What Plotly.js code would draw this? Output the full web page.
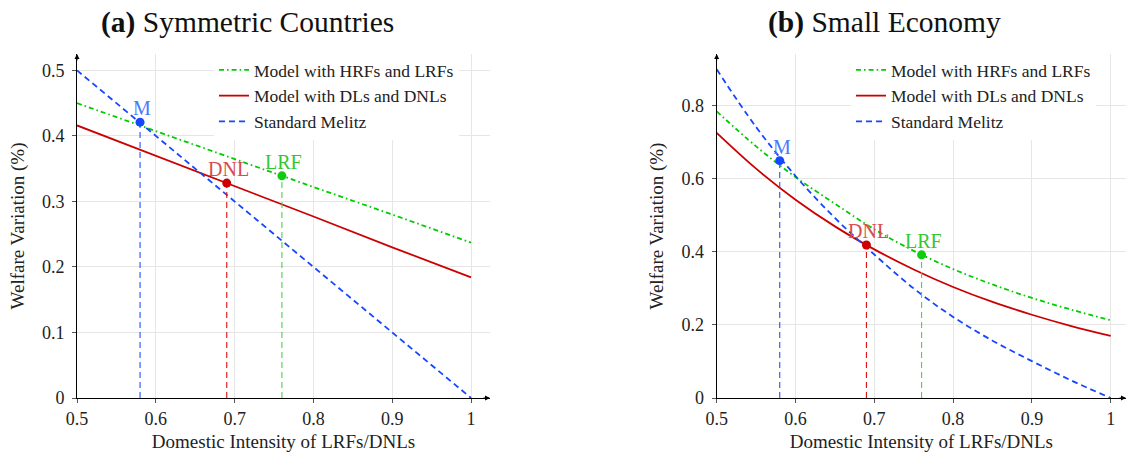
<!DOCTYPE html>
<html>
<head>
<meta charset="utf-8">
<script src="https://cdn.plot.ly/plotly-3.0.1.min.js"></script>
<style>
  html, body { margin: 0; padding: 0; background: #fff; }
  #chart { width: 1126px; height: 456px; }
</style>
</head>
<body>
<div id="chart"></div>
<script>
// ---------- data ----------
const seriesNames = ['Model with HRFs and LRFs', 'Model with DLs and DNLs', 'Standard Melitz'];

// Panel (a): Symmetric Countries
const xA = [0.5, 0.6, 0.7, 0.8, 0.9, 1.0];
const hrfA = [0.450, 0.407, 0.365, 0.322, 0.280, 0.237];
const dlA = [0.416, 0.370, 0.323, 0.277, 0.230, 0.184];
const melitzA = [0.500, 0.400, 0.300, 0.200, 0.100, 0.000];

// Panel (b): Small Economy
const xB = [0.5, 0.55, 0.6, 0.65, 0.7, 0.75, 0.8, 0.85, 0.9, 0.95, 1.0];
const hrfB = [0.785, 0.689, 0.605, 0.532, 0.462, 0.403, 0.353, 0.311, 0.274, 0.242, 0.213];
const dlB = [0.726, 0.628, 0.543, 0.470, 0.407, 0.352, 0.304, 0.263, 0.228, 0.197, 0.170];
const melitzB = [0.900, 0.742, 0.608, 0.493, 0.393, 0.300, 0.222, 0.157, 0.101, 0.048, 0.000];

// Highlighted points
const pointLabels = ['M', 'DNL', 'LRF'];
const pointXA = [0.58, 0.69, 0.76];
const pointYA = [0.421, 0.328, 0.339];
const pointXB = [0.58, 0.69, 0.76];
const pointYB = [0.650, 0.419, 0.392];

// Ticks
const xTickVals = [0.5, 0.6, 0.7, 0.8, 0.9, 1.0];
const xTickText = ['0.5', '0.6', '0.7', '0.8', '0.9', '1'];
const yTickValsA = [0, 0.1, 0.2, 0.3, 0.4, 0.5];
const yTickTextA = ['0', '0.1', '0.2', '0.3', '0.4', '0.5'];
const yTickValsB = [0, 0.2, 0.4, 0.6, 0.8];
const yTickTextB = ['0', '0.2', '0.4', '0.6', '0.8'];

const panelTitles = ['<b>(a)</b> Symmetric Countries', '<b>(b)</b> Small Economy'];
const xTitle = 'Domestic Intensity of LRFs/DNLs';
const yTitle = 'Welfare Variation (%)';

// ---------- styles ----------
const FONT = 'Liberation Serif, Times New Roman, serif';
const GREEN = '#00cc00', RED = '#cc0000', BLUE = '#1448ff';
const pointColors = [BLUE, RED, '#10cc10'];
const dropColors = ['#1f50ff', '#dd1111', '#4fcf4f'];
const labelColors = ['#4a7bff', '#d84c4c', '#33c733'];

function panelTraces(xs, hrf, dl, mel, px, py, xa, ya, leg, shape) {
  const tr = [];
  const common = {xaxis: xa, yaxis: ya, legend: leg, mode: 'lines', hoverinfo: 'skip'};
  tr.push(Object.assign({}, common, {x: xs, y: hrf, name: seriesNames[0],
    line: {color: GREEN, width: 1.8, dash: '5px,3px,1.6px,3px', shape: shape, smoothing: 1}}));
  tr.push(Object.assign({}, common, {x: xs, y: dl, name: seriesNames[1],
    line: {color: RED, width: 1.8, shape: shape, smoothing: 1}}));
  tr.push(Object.assign({}, common, {x: xs, y: mel, name: seriesNames[2],
    line: {color: BLUE, width: 1.8, dash: '6px,4px', shape: shape, smoothing: 1}}));
  for (let i = 0; i < px.length; i++) {
    tr.push({x: [px[i], px[i]], y: [0, py[i]], xaxis: xa, yaxis: ya, mode: 'lines',
      showlegend: false, hoverinfo: 'skip',
      line: {color: dropColors[i], width: 1.1, dash: '6px,4px'}});
  }
  tr.push({x: px, y: py, xaxis: xa, yaxis: ya, mode: 'markers',
    showlegend: false, hoverinfo: 'skip',
    marker: {color: pointColors, size: 9}});
  return tr;
}

function pointAnnotations(px, py, xr, yr) {
  return px.map((v, i) => ({
    text: pointLabels[i], xref: xr, yref: yr, x: v, y: py[i], yshift: 14, xshift: 2,
    xanchor: 'center', yanchor: 'middle', showarrow: false,
    font: {family: FONT, size: 20, color: labelColors[i]}
  }));
}

const data = [].concat(
  panelTraces(xA, hrfA, dlA, melitzA, pointXA, pointYA, 'x', 'y', 'legend', 'linear'),
  panelTraces(xB, hrfB, dlB, melitzB, pointXB, pointYB, 'x2', 'y2', 'legend2', 'spline')
);

const W = 1126, H = 456;
const yDom = [1 - 398 / H, 1 - 54 / H];

function xAxis(domain, range) {
  return {
    domain: domain, range: range, tickmode: 'array', tickvals: xTickVals, ticktext: xTickText,
    showgrid: true, gridcolor: '#e6e6e6', gridwidth: 1, zeroline: false,
    showline: true, linecolor: '#000', linewidth: 1,
    ticks: 'outside', ticklen: 4, tickcolor: '#555', tickwidth: 1,
    tickfont: {family: FONT, size: 18, color: '#222'},
    title: {text: xTitle, font: {family: FONT, size: 19, color: '#222'}, standoff: 7},
    fixedrange: true
  };
}
function yAxis(range, tv, tt, anchor) {
  return {
    domain: yDom, range: range, anchor: anchor, tickmode: 'array', tickvals: tv, ticktext: tt,
    showgrid: true, gridcolor: '#e6e6e6', gridwidth: 1, zeroline: false,
    showline: true, linecolor: '#000', linewidth: 1,
    ticks: 'outside', ticklen: 4, tickcolor: '#555', tickwidth: 1,
    ticklabelstandoff: 4,
    tickfont: {family: FONT, size: 18, color: '#222'},
    title: {text: yTitle, font: {family: FONT, size: 19, color: '#222'}, standoff: 12},
    fixedrange: true
  };
}

const legendBase = {
  yanchor: 'top', xanchor: 'left', y: 1 - 52 / H,
  bgcolor: '#ffffff', borderwidth: 0,
  font: {family: FONT, size: 17.5, color: '#222'},
  tracegroupgap: 0, itemclick: false
};

const arrowBase = {text: '', showarrow: true, arrowhead: 2, arrowsize: 1, arrowwidth: 1,
  arrowcolor: '#000', standoff: 0};

const layout = {
  width: W, height: H,
  margin: {l: 0, r: 0, t: 0, b: 0},
  paper_bgcolor: '#fff', plot_bgcolor: '#fff',
  showlegend: true,
  xaxis: Object.assign(xAxis([77 / W, 490 / W], [0.5, 1.024]), {anchor: 'y'}),
  yaxis: yAxis([0, 0.525], yTickValsA, yTickTextA, 'x'),
  xaxis2: Object.assign(xAxis([716.7 / W, 1], [0.5, 1.0194]), {anchor: 'y2'}),
  yaxis2: yAxis([0, 0.942], yTickValsB, yTickTextB, 'x2'),
  legend: Object.assign({}, legendBase, {x: 214 / W}),
  legend2: Object.assign({}, legendBase, {x: 851 / W}),
  annotations: [
    {text: panelTitles[0], xref: 'paper', yref: 'paper', x: 247 / W, y: 1 - 22 / H,
     xanchor: 'center', yanchor: 'middle', showarrow: false,
     font: {family: FONT, size: 29.5, color: '#111'}},
    {text: panelTitles[1], xref: 'paper', yref: 'paper', x: 885 / W, y: 1 - 22 / H,
     xanchor: 'center', yanchor: 'middle', showarrow: false,
     font: {family: FONT, size: 29.5, color: '#111'}},
    Object.assign({}, arrowBase, {xref: 'x', yref: 'y', x: 1.024, y: 0, ax: -8, ay: 0}),
    Object.assign({}, arrowBase, {xref: 'x', yref: 'y', x: 0.5, y: 0.525, ax: 0, ay: 8}),
    Object.assign({}, arrowBase, {xref: 'x2', yref: 'y2', x: 1.0194, y: 0, ax: -8, ay: 0}),
    Object.assign({}, arrowBase, {xref: 'x2', yref: 'y2', x: 0.5, y: 0.942, ax: 0, ay: 8})
  ].concat(pointAnnotations(pointXA, pointYA, 'x', 'y'), pointAnnotations(pointXB, pointYB, 'x2', 'y2'))
};

Plotly.newPlot('chart', data, layout, {displayModeBar: false, staticPlot: true});
</script>
</body>
</html>
